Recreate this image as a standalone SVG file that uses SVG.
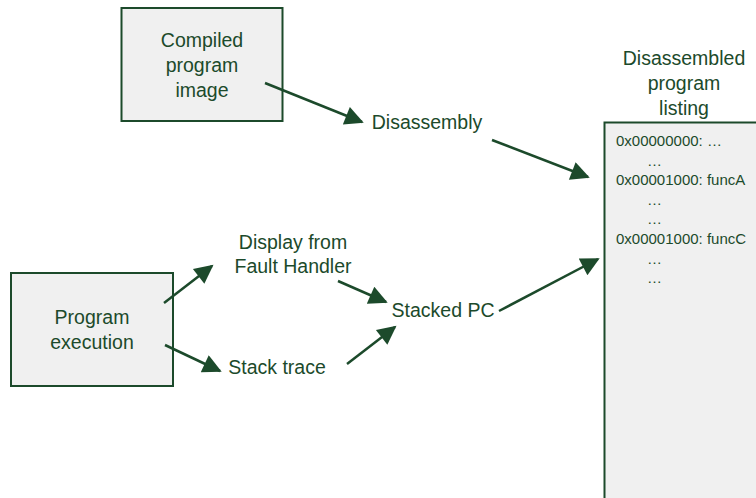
<svg xmlns="http://www.w3.org/2000/svg" width="756" height="498" viewBox="0 0 756 498">
<style>
.box{fill:#f0f0f0;stroke:#1c4a2b;stroke-width:2}
.t{font-family:"Liberation Sans",Arial,sans-serif;font-size:19.5px;fill:#1c4a2b;text-anchor:middle}
.s{font-family:"Liberation Sans",Arial,sans-serif;font-size:15px;fill:#1c4a2b}
.c{stroke:#1c4a2b;stroke-width:2.5;fill:none;marker-end:url(#ah)}
</style>
<defs>
<marker id="ah" viewBox="0 0 10 10" refX="9" refY="5" markerWidth="9" markerHeight="7.5" markerUnits="strokeWidth" orient="auto">
<path d="M0,0 L10,5 L0,10 z" fill="#1c4a2b"/>
</marker>
</defs>
<rect width="756" height="498" fill="#fff"/>
<g id="compiled">
<rect class="box" x="121.5" y="8" width="161" height="113"/>
<text class="t" x="202" y="47">Compiled</text>
<text class="t" x="202" y="72">program</text>
<text class="t" x="202" y="97">image</text>
</g>
<g id="disassembly">
<text class="t" x="427" y="129">Disassembly</text>
</g>
<g id="listing">
<text class="t" x="684" y="65">Disassembled</text>
<text class="t" x="684" y="90">program</text>
<text class="t" x="684" y="115">listing</text>
<rect x="604.5" y="122.5" width="152" height="376" fill="#f0f0f0"/>
<path d="M604.5,498 V122.5 H756" fill="none" stroke="#1c4a2b" stroke-width="2"/>
<text class="s" x="616" y="146">0x00000000: …</text>
<text class="s" x="647" y="166">…</text>
<text class="s" x="616" y="185">0x00001000: funcA</text>
<text class="s" x="647" y="205">…</text>
<text class="s" x="647" y="224">…</text>
<text class="s" x="616" y="244">0x00001000: funcC</text>
<text class="s" x="647" y="264">…</text>
<text class="s" x="647" y="283">…</text>
</g>
<g id="execution">
<rect class="box" x="11" y="273" width="162" height="113"/>
<text class="t" x="92" y="324">Program</text>
<text class="t" x="92" y="349">execution</text>
</g>
<g id="display">
<text class="t" x="293" y="249">Display from</text>
<text class="t" x="293" y="273">Fault Handler</text>
</g>
<g id="stacktrace">
<text class="t" x="277" y="374">Stack trace</text>
</g>
<g id="stackedpc">
<text class="t" x="443" y="317">Stacked PC</text>
</g>
<g id="connectors">
<line class="c" x1="265" y1="83" x2="362" y2="122"/>
<line class="c" x1="492" y1="140" x2="588" y2="177"/>
<line class="c" x1="164" y1="303" x2="212" y2="266"/>
<line class="c" x1="165" y1="345" x2="220" y2="371"/>
<line class="c" x1="338" y1="281" x2="386" y2="302"/>
<line class="c" x1="347" y1="364" x2="395" y2="327"/>
<line class="c" x1="499" y1="311" x2="598" y2="259"/>
</g>
</svg>
